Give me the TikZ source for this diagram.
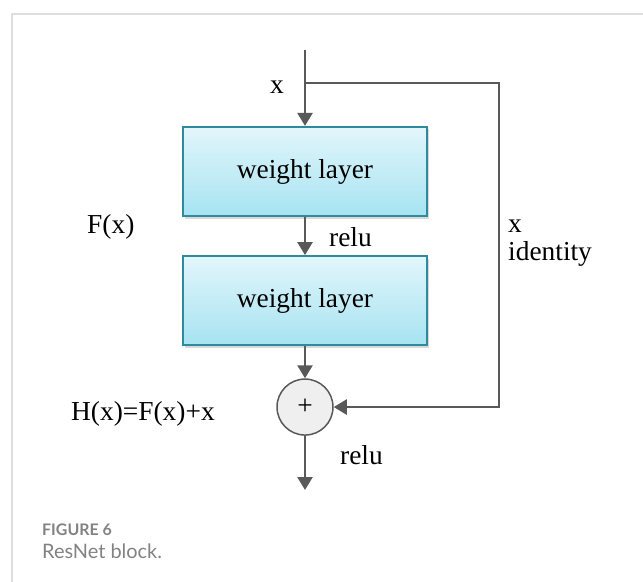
\documentclass[tikz,border=0pt]{standalone}
\usepackage{fontspec}
\setmainfont{Liberation Serif}
\newfontfamily\capfont{Lato}
\usetikzlibrary{arrows.meta,positioning,shadows}
\definecolor{linegray}{RGB}{89,89,89}
\definecolor{layeredge}{RGB}{46,138,156}
\definecolor{layertop}{RGB}{226,246,251}
\definecolor{layerbot}{RGB}{166,227,241}
\definecolor{sumfill}{RGB}{239,239,239}
\definecolor{framegray}{RGB}{222,222,222}
\definecolor{capgray}{RGB}{130,130,130}

\begin{document}
\begin{tikzpicture}[x=1bp, y=-1bp,
  layer/.style={draw=layeredge, line width=2.2bp, top color=layertop, bottom color=layerbot,
                minimum width=244bp, minimum height=89bp, inner sep=0pt,
                font=\fontsize{27.5}{30}\selectfont,
                drop shadow={shadow xshift=2bp, shadow yshift=-2.5bp, opacity=0.3}},
  sum/.style={circle, draw=linegray, line width=1.5bp, fill=sumfill, minimum size=56bp,
              inner sep=0pt, font=\fontsize{27.5}{30}\selectfont},
  lbl/.style={font=\fontsize{27.5}{30}\selectfont, inner sep=0pt},
  captext/.style={font=\capfont\fontsize{20}{22}\selectfont, text=capgray, inner sep=0pt},
  arr/.style={-{Triangle[length=13bp,width=15bp]}, line width=2.5bp, linegray}
]
  \useasboundingbox (0,0) rectangle (643,582);
  % card frame
  \draw[framegray, line width=2bp] (643,14) -- (11.5,14) -- (11.5,582);

  % residual block
  \node[layer] (w1) at (305,171.5) {weight layer};
  \node[layer, below=38bp of w1] (w2) {weight layer};
  \node[sum, below=32bp of w2] (add) {+};

  \coordinate (xin) at (305,50);
  \coordinate (split) at (305,83);
  \coordinate (skip) at (499,83);
  \coordinate (yout) at (305,490);

  \draw[arr] (xin) -- (w1);
  \draw[arr] (w1) -- (w2);
  \draw[arr] (w2) -- (add);
  \draw[arr] (add) -- (yout);
  \draw[arr] (split) -- (skip) |- (add);

  % labels
  \node[lbl, anchor=base west] (xlbl) at (270,94) {x};
  \node[lbl, anchor=base west] (fx) at (87,233) {F(x)};
  \node[lbl, anchor=base west] (relu1) at (329,246) {relu};
  \node[lbl, anchor=base west] (xid) at (508,232) {x};
  \node[lbl, anchor=base west] (ident) at (508,260) {identity};
  \node[lbl, anchor=base west] (hx) at (71,420) {H(x)=F(x)+x};
  \node[lbl, anchor=base west] (relu2) at (340,464) {relu};

  % caption
  \node[captext, anchor=base west, font=\capfont\bfseries\fontsize{16}{18}\selectfont] (fig) at (42,535) {FIGURE 6};
  \node[captext, anchor=base west] (title) at (42,558) {ResNet block.};
\end{tikzpicture}
\end{document}
